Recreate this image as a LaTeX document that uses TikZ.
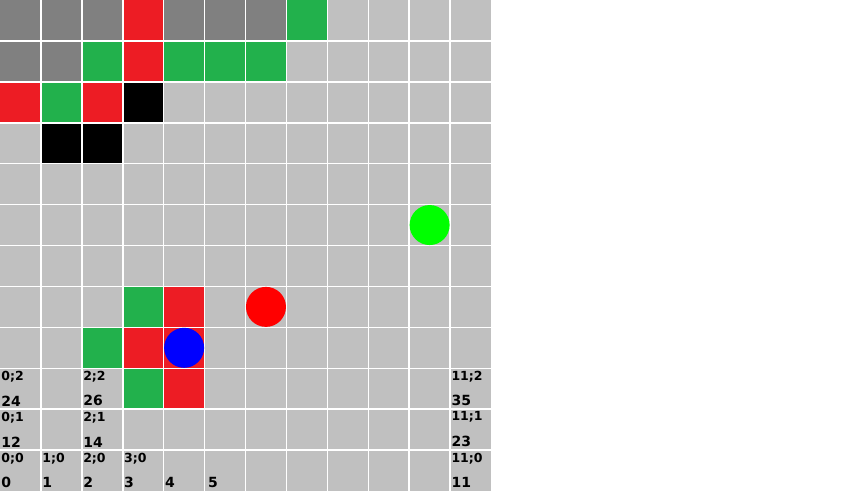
\documentclass[tikz,border=0pt]{standalone}
\usepackage{fontspec}
\setmainfont{DejaVu Sans}
\definecolor{dgray}{RGB}{128,128,128}
\definecolor{lgray}{RGB}{192,192,192}
\definecolor{cred}{RGB}{237,28,36}
\definecolor{cgreen}{RGB}{34,177,76}
\begin{document}
\begin{tikzpicture}[x=40.9167pt,y=-40.9167pt,
  coordlbl/.style={anchor=north west,inner sep=0pt,font=\bfseries\fontsize{12.5}{12.5}\selectfont},
  idxlbl/.style={anchor=south west,inner sep=0pt,font=\bfseries\fontsize{14}{14}\selectfont},
  ball/.style={circle,minimum size=40pt,inner sep=0pt}]
\useasboundingbox[fill=white] (0,0) rectangle (20.7248,12);
\fill[lgray] (0,0) rectangle (12,12);
% dark gray cells
\foreach \c/\r in {0/0,1/0,2/0,4/0,5/0,6/0,0/1,1/1}
  \fill[dgray] (\c,\r) rectangle +(1,1);
% red cells
\foreach \c/\r in {3/0,3/1,0/2,2/2,4/7,3/8,4/8,4/9}
  \fill[cred] (\c,\r) rectangle +(1,1);
% green cells
\foreach \c/\r in {7/0,2/1,4/1,5/1,6/1,1/2,3/7,2/8,3/9}
  \fill[cgreen] (\c,\r) rectangle +(1,1);
% black cells
\foreach \c/\r in {3/2,1/3,2/3}
  \fill[black] (\c,\r) rectangle +(1,1);
% grid lines
\foreach \i in {1,...,11}{
  \draw[white,line width=1.5pt] (\i,0) -- (\i,12);
  \draw[white,line width=1.5pt] (0,\i) -- (12,\i);
}
% balls
\node[ball,fill={rgb,255:red,0;green,255;blue,0}] (gball) at (10.5,5.5) {};
\node[ball,fill={rgb,255:red,255;green,0;blue,0}] (rball) at (6.5,7.5) {};
\node[ball,fill={rgb,255:red,0;green,0;blue,255}] (bball) at (4.5,8.5) {};
% labels
\foreach \c/\r/\t/\n/\nm in {0/9/0;2/24/a,2/9/2;2/26/b,11/9/11;2/35/c,
  0/10/0;1/12/d,2/10/2;1/14/e,11/10/11;1/23/f,
  0/11/0;0/0/g,1/11/1;0/1/h,2/11/2;0/2/i,3/11/3;0/3/j,11/11/11;0/11/k}{
  \node[coordlbl] (co\nm) at (\c+0.03,\r+0.06) {\t};
  \node[idxlbl] (ix\nm) at (\c+0.03,\r+0.93) {\n};
}
\node[idxlbl] (ix4) at (4.03,11.93) {4};
\node[idxlbl] (ix5) at (5.08,11.93) {5};
\end{tikzpicture}
\end{document}
